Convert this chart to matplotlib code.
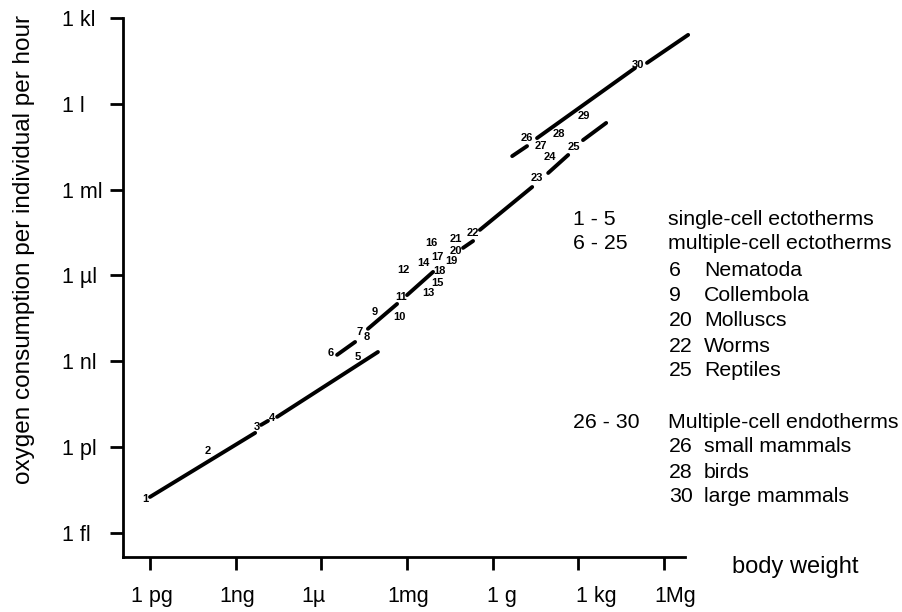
import numpy as np
import matplotlib.pyplot as plt
from matplotlib import transforms

plt.rcParams['font.family'] = ['Liberation Sans', 'DejaVu Sans']

# segments, as log10 of body weight (g) and log10 of O2 use (l per hour)
seg_x0 = [-12.00, -8.11, -7.55, -5.45, -4.37, -3.00, -1.04, -0.45, 1.94, 3.16, 0.68, 1.55, 5.40]
seg_y0 = [-13.75, -11.23, -10.95, -8.78, -7.87, -6.69, -5.04, -4.41, -2.42, -1.27, -1.83, -1.20, 1.43]
seg_x1 = [-8.32, -7.87, -4.02, -4.82, -3.35, -2.09, -0.69, 1.38, 2.64, 3.97, 1.20, 4.98, 6.84]
seg_y1 = [-11.51, -11.09, -8.68, -8.33, -7.00, -5.88, -4.80, -2.91, -1.79, -0.67, -1.48, 1.25, 2.41]

# group numbers written along the lines
num_text = [str(i) for i in range(1, 31)]
num_x = [-12.18, -9.97, -8.25, -7.73, -4.72, -5.66, -4.65, -4.40, -4.12, -3.25,
         -3.21, -3.14, -2.27, -2.44, -1.95, -2.16, -1.95, -1.88, -1.46, -1.29,
         -1.29, -0.69, 1.55, 2.01, 2.85, 1.20, 1.69, 2.32, 3.20, 5.09]
num_y = [-13.82, -12.14, -11.30, -10.99, -8.85, -8.71, -7.98, -8.15, -7.28, -7.45,
         -6.76, -5.81, -6.62, -5.57, -6.27, -4.87, -5.36, -5.85, -5.50, -5.15,
         -4.73, -4.52, -2.59, -1.86, -1.51, -1.20, -1.48, -1.06, -0.43, 1.36]

x_ticks = [-12, -9, -6, -3, 0, 3, 6]
x_labels = ['1 pg', '1ng', '1µ', '1mg', '1 g', '1 kg', '1Mg']
y_ticks = [-15, -12, -9, -6, -3, 0, 3]
y_labels = ['1 fl', '1 pl', '1 nl', '1 µl', '1 ml', '1 l', '1 kl']

legend_rows = [
    ('1 - 5', None, 'single-cell ectotherms'),
    ('6 - 25', None, 'multiple-cell ectotherms'),
    ('', '6', 'Nematoda'),
    ('', '9', 'Collembola'),
    ('', '20', 'Molluscs'),
    ('', '22', 'Worms'),
    ('', '25', 'Reptiles'),
    ('26 - 30', None, 'Multiple-cell endotherms'),
    ('', '26', 'small mammals'),
    ('', '28', 'birds'),
    ('', '30', 'large mammals'),
]
legend_ypx = [217, 242, 268, 293, 318, 344, 369, 420, 445, 471, 495]

fig = plt.figure(figsize=(9.02, 6.12), dpi=100)
ax = fig.add_axes([123 / 902, 55 / 612, 562 / 902, 539 / 612])

for x0, y0, x1, y1 in zip(seg_x0, seg_y0, seg_x1, seg_y1):
    ax.plot([10.0**x0, 10.0**x1], [10.0**y0, 10.0**y1], color='black',
            lw=2.8, solid_capstyle='round', clip_on=False)

for t, x, y in zip(num_text, num_x, num_y):
    ax.text(10.0**x, 10.0**y, t, fontsize=8, fontweight='bold',
            ha='center', va='center')

ax.set_xscale('log')
ax.set_yscale('log')
ax.set_xlim(10**-12.945, 10**6.73)
ax.set_ylim(10**-15.85, 10**3)

for s in ['top', 'right']:
    ax.spines[s].set_visible(False)
for s in ['left', 'bottom']:
    ax.spines[s].set_linewidth(2)

ax.minorticks_off()
ax.set_xticks([10.0**v for v in x_ticks])
ax.set_xticklabels([''] * len(x_ticks))
ax.set_yticks([10.0**v for v in y_ticks])
ax.set_yticklabels(y_labels, fontsize=15.5)
ax.tick_params(axis='both', length=9.4, width=2)
ax.tick_params(axis='y', pad=34.6)
plt.setp(ax.get_yticklabels(), ha='left')

# x tick labels are a bit off their ticks in the original
x_shift_px = [2, 2, -8, 1, 9, 18, 11]
for v, lab, dx in zip(x_ticks, x_labels, x_shift_px):
    tr = transforms.offset_copy(ax.get_xaxis_transform(), fig=fig, x=dx, y=0, units='dots')
    ax.text(10.0**v, -45 / 539, lab, transform=tr, fontsize=15.5,
            ha='center', va='baseline', clip_on=False)

fig.text(24 / 902, 1 - 249 / 612, 'oxygen consumption per individual per hour',
         rotation=90, fontsize=17.5, ha='center', va='center')
fig.text(732 / 902, 1 - 573 / 612, 'body weight', fontsize=17,
         ha='left', va='baseline')

for (rng, num, name), ypx in zip(legend_rows, legend_ypx):
    yf = 1 - ypx / 612
    if rng:
        fig.text(573 / 902, yf, rng, fontsize=15.3, va='center_baseline')
    if num is None:
        fig.text(668 / 902, yf, name, fontsize=15.3, va='center_baseline')
    else:
        fig.text(669 / 902, yf, num, fontsize=15.3, va='center_baseline')
        fig.text(704 / 902, yf, name, fontsize=15.3, va='center_baseline')

fig.savefig('out.png', dpi=100)
